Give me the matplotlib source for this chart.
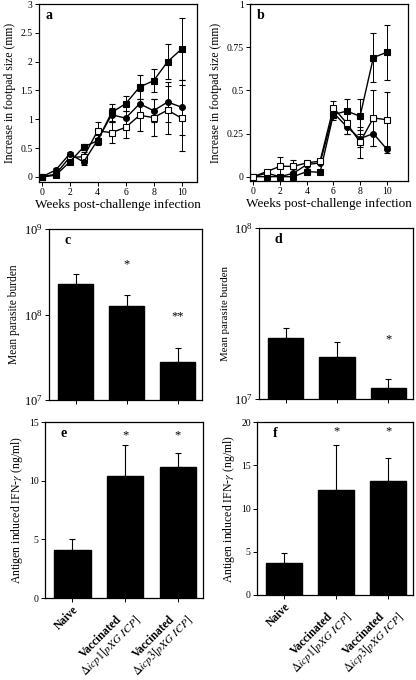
import matplotlib
matplotlib.use('Agg')

import matplotlib.pyplot as plt
import numpy as np
from matplotlib.ticker import NullLocator, LogLocator

plt.rcParams['font.family'] = ['Liberation Serif', 'DejaVu Serif']
plt.rcParams['mathtext.fontset'] = 'stix'
plt.rcParams['axes.linewidth'] = 0.9

W, H = 416, 680

# footpad swelling, weeks 0..10
weeks = np.arange(11)

a_filled_sq = [0, 0.03, 0.26, 0.52, 0.63, 1.12, 1.27, 1.56, 1.67, 2.0, 2.22]
a_filled_sq_err = [0, 0.02, 0.04, 0.05, 0.05, 0.15, 0.13, 0.2, 0.2, 0.3, 0.54]
a_circle = [0, 0.12, 0.4, 0.26, 0.64, 1.08, 1.02, 1.27, 1.15, 1.3, 1.21]
a_circle_err = [0, 0.03, 0.04, 0.05, 0.08, 0.12, 0.12, 0.22, 0.2, 0.35, 0.48]
a_open_sq = [0, 0.05, 0.34, 0.35, 0.8, 0.77, 0.86, 1.07, 1.03, 1.16, 1.02]
a_open_sq_err = [0, 0.03, 0.05, 0.08, 0.15, 0.18, 0.18, 0.28, 0.32, 0.42, 0.57]

b_filled_sq = [0, 0.0, 0.0, 0.0, 0.03, 0.025, 0.36, 0.38, 0.35, 0.69, 0.72]
b_filled_sq_err = [0, 0, 0, 0, 0, 0, 0.03, 0.07, 0.1, 0.14, 0.16]
b_circle = [0, 0.02, 0.0, 0.02, 0.07, 0.08, 0.37, 0.29, 0.22, 0.25, 0.16]
b_circle_err = [0, 0, 0, 0.01, 0, 0, 0.03, 0.04, 0.05, 0.07, 0.02]
b_open_sq = [0, 0.03, 0.06, 0.06, 0.08, 0.09, 0.4, 0.31, 0.2, 0.34, 0.33]
b_open_sq_err = [0, 0.01, 0.055, 0.035, 0.01, 0.01, 0.04, 0.06, 0.09, 0.16, 0.16]

# bar panels
groups = ['Naive', 'Vaccinated\n' + r'$\it{\Delta icp1[pXG\ ICP]}$',
          'Vaccinated\n' + r'$\it{\Delta icp3[pXG\ ICP]}$']

c_mean = [2.3e8, 1.26e8, 2.8e7]
c_err = [0.7e8, 0.41e8, 1.3e7]
c_sig = ['', '*', '**']

d_mean = [2.28e7, 1.75e7, 1.16e7]
d_err = [0.32e7, 0.41e7, 0.15e7]
d_sig = ['', '', '*']

e_mean = [4.1, 10.4, 11.2]
e_err = [0.9, 2.6, 1.2]
e_sig = ['', '*', '*']

f_mean = [3.73, 12.1, 13.2]
f_err = [1.07, 5.2, 2.6]
f_sig = ['', '*', '*']


def box(left, top, right, bottom):
    return [left / W, 1 - bottom / H, (right - left) / W, (bottom - top) / H]


fig = plt.figure(figsize=(W / 100, H / 100), dpi=100)


def line_panel(rect, series, ylim, yticks, yticklabels, letter, xlim):
    ax = fig.add_axes(rect)
    for vals, err, marker, face in series:
        ax.errorbar(weeks, vals, yerr=err, color='black', linewidth=1.0,
                    marker=marker, markersize=4.2, markerfacecolor=face,
                    markeredgecolor='black', markeredgewidth=0.8,
                    elinewidth=0.7, capsize=2.0, capthick=0.7)
    ax.set_xlim(*xlim)
    ax.set_ylim(*ylim)
    ax.set_xticks([0, 2, 4, 6, 8, 10])
    ax.set_yticks(yticks)
    ax.set_yticklabels(yticklabels)
    ax.tick_params(direction='out', length=3, width=0.7, labelsize=7, pad=1.5)
    ax.set_xlabel('Weeks post-challenge infection', fontsize=9.5, labelpad=1)
    ax.set_ylabel('Increase in footpad size (mm)', fontsize=8.5, labelpad=3)
    ax.text(0.04, 0.97, letter, transform=ax.transAxes, fontsize=10,
            fontweight='bold', va='top', ha='left')
    return ax


line_panel(box(39, 4, 197, 182),
           [(a_open_sq, a_open_sq_err, 's', 'white'),
            (a_circle, a_circle_err, 'o', 'black'),
            (a_filled_sq, a_filled_sq_err, 's', 'black')],
           (-0.087, 3.0), [0, 0.5, 1, 1.5, 2, 2.5, 3],
           ['0', '0.5', '1', '1.5', '2', '2.5', '3'], 'a', (-0.19, 11.1))

line_panel(box(250, 4, 408, 181),
           [(b_circle, b_circle_err, 'o', 'black'),
            (b_filled_sq, b_filled_sq_err, 's', 'black'),
            (b_open_sq, b_open_sq_err, 's', 'white')],
           (-0.025, 1.0), [0, 0.25, 0.5, 0.75, 1],
           ['0', '0.25', '0.5', '0.75', '1'], 'b', (-0.26, 11.6))


def bar_panel(rect, means, errs, sig, letter, ylabel, log=False, ylim=None,
              yticks=None, star_y=None, show_names=False, label_size=8):
    ax = fig.add_axes(rect)
    x = np.arange(len(means))
    base = ylim[0]
    heights = [m - base for m in means]
    ax.bar(x, heights, width=0.69, bottom=base, color='black',
           edgecolor='black')
    ax.errorbar(x, means, yerr=[np.zeros(len(means)), errs], fmt='none',
                ecolor='black', elinewidth=0.8, capsize=2.5, capthick=0.8)
    if log:
        ax.set_yscale('log')
        ax.yaxis.set_major_locator(LogLocator(base=10))
        ax.yaxis.set_minor_locator(NullLocator())
    ax.set_ylim(*ylim)
    if yticks is not None:
        ax.set_yticks(yticks)
    ax.set_xlim(-0.52, 2.48)
    ax.set_xticks(x)
    if show_names:
        ax.set_xticklabels(groups, rotation=45, ha='right', va='top',
                           rotation_mode='anchor', multialignment='center',
                           fontsize=8.3, fontweight='bold', linespacing=0.95)
    else:
        ax.set_xticklabels([])
    ax.tick_params(axis='x', direction='out', length=3, width=0.7, pad=1.5)
    ax.tick_params(axis='y', direction='out', length=3, width=0.7,
                   labelsize=9 if log else 7, pad=1.5)
    for i, s in enumerate(sig):
        if s:
            ax.text(i, star_y[i], s, ha='center', va='center', fontsize=9)
    ax.set_ylabel(ylabel, fontsize=label_size, labelpad=3)
    ax.text(0.1, 0.97, letter, transform=ax.transAxes, fontsize=10,
            fontweight='bold', va='top', ha='left')
    return ax


c_top = [m + e for m, e in zip(c_mean, c_err)]
bar_panel(box(49, 229, 202, 400), c_mean, c_err, c_sig, 'c',
          'Mean parasite burden', log=True, ylim=(1e7, 1e9),
          star_y=[t * 2.3 for t in c_top], label_size=8.3)

d_top = [m + e for m, e in zip(d_mean, d_err)]
bar_panel(box(259, 228, 413, 399), d_mean, d_err, d_sig, 'd',
          'Mean parasite burden', log=True, ylim=(1e7, 1e8),
          star_y=[t * 1.7 for t in d_top], label_size=7.8)

bar_panel(box(45, 422, 203, 598), e_mean, e_err, e_sig, 'e',
          r'Antigen induced IFN-$\gamma$ (ng/ml)', ylim=(0, 15),
          yticks=[0, 5, 10, 15], star_y=[13.9] * 3, show_names=True,
          label_size=8.5)

bar_panel(box(257, 422, 413, 595), f_mean, f_err, f_sig, 'f',
          r'Antigen induced IFN-$\gamma$ (ng/ml)', ylim=(0, 20),
          yticks=[0, 5, 10, 15, 20], star_y=[18.9] * 3, show_names=True,
          label_size=8.5)

fig.savefig('out.png', dpi=100, facecolor='white')
plt.close(fig)
